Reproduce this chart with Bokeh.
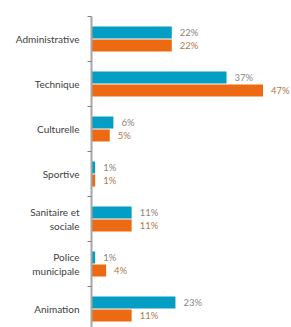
from bokeh.plotting import figure
from bokeh.models import Range1d, FixedTicker, ColumnDataSource
from bokeh.core.properties import value
from bokeh.embed import file_html
from bokeh.resources import INLINE

categories = ["Administrative", "Technique", "Culturelle", "Sportive",
              "Sanitaire et\nsociale", "Police\nmunicipale", "Animation"]
serie_bleue = [22, 37, 6, 1, 11, 1, 23]
serie_orange = [22, 47, 5, 1, 11, 4, 11]

n = len(categories)
centers = list(range(n))
off = 0.145
bh = 0.27

p = figure(width=291, height=327, output_backend="svg", toolbar_location=None,
           x_range=Range1d(0, 54.8), y_range=Range1d(6.411, -0.5),
           min_border_left=91, min_border_right=0, min_border_top=16, min_border_bottom=0)
p.outline_line_color = None
p.grid.grid_line_color = None
p.xaxis.visible = False
p.background_fill_color = "white"
p.border_fill_color = "white"

src_b = ColumnDataSource(dict(y=[c - off for c in centers], v=serie_bleue,
                              t=[f"{v}%" for v in serie_bleue]))
src_o = ColumnDataSource(dict(y=[c + off for c in centers], v=serie_orange,
                              t=[f"{v}%" for v in serie_orange]))

p.hbar(y="y", right="v", left=0, height=bh, source=src_b, color="#049ec4", line_color=None)
p.hbar(y="y", right="v", left=0, height=bh, source=src_o, color="#ed6a13", line_color=None)

p.text(x="v", y="y", text="t", source=src_b, x_offset=8, text_baseline="middle",
       text_font=value("Lato"), text_font_size="9.5px", text_color="#8a8580")
p.text(x="v", y="y", text="t", source=src_o, x_offset=8, text_baseline="middle",
       text_font=value("Lato"), text_font_size="9.5px", text_color="#b07a4a")

ax = p.yaxis[0]
ax.ticker = FixedTicker(ticks=centers, minor_ticks=[c - 0.5 for c in range(n + 1)])
ax.major_label_overrides = {i: c for i, c in enumerate(categories)}
ax.major_tick_out = 0
ax.major_tick_in = 0
ax.minor_tick_out = 4
ax.minor_tick_in = 0
ax.minor_tick_line_color = "#808080"
ax.axis_line_color = "#a6a6a6"
ax.axis_line_width = 2
ax.major_label_standoff = 8
ax.major_label_text_font = "Lato"
ax.major_label_text_font_size = "10px"
ax.major_label_text_color = "#404040"
ax.major_label_text_align = "right"

open("out.html", "w").write(file_html(p, INLINE))
